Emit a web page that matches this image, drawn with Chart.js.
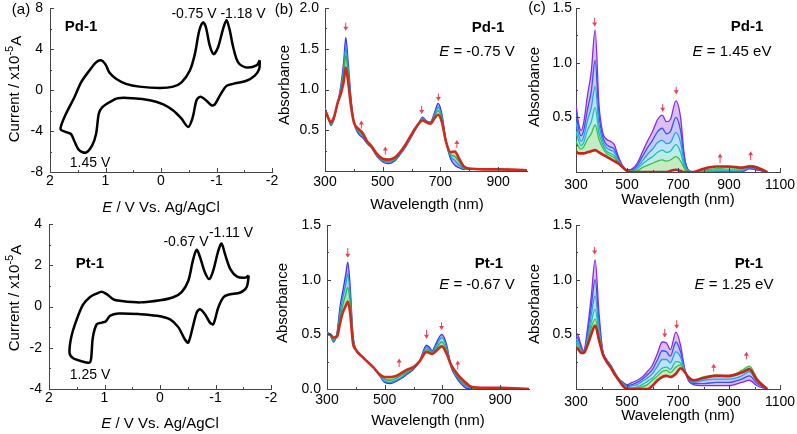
<!DOCTYPE html>
<html>
<head>
<meta charset="utf-8">
<script src="https://cdn.jsdelivr.net/npm/chart.js@4.4.0/dist/chart.umd.min.js"></script>
<style>
  html, body { margin: 0; padding: 0; background: #fff; }
  #wrap { position: relative; width: 797px; height: 434px; overflow: hidden; }
  canvas { position: absolute; }
</style>
</head>
<body>
<div id="wrap"></div>
<script>
// cyclic voltammograms (E in V, current in 1e-5 A)
const cvPdE = [-1.78,-1.72,-1.54,-1.39,-1.30,-1.24,-1.18,-1.11,-1.03,-0.95,-0.88,-0.81,-0.76,-0.69,-0.61,-0.52,-0.37,-0.22,0.02,0.39,0.63,0.81,0.93,1.00,1.08,1.17,1.29,1.44,1.56,1.71,1.81,
  1.71,1.62,1.56,1.47,1.35,1.24,1.17,1.12,1.06,0.93,0.78,0.51,0.20,-0.04,-0.22,-0.37,-0.49,-0.57,-0.64,-0.71,-0.81,-0.91,-0.97,-1.06,-1.18,-1.30,-1.54,-1.69,-1.77,-1.78];
const cvPdI = [2.9,2.4,2.2,2.7,4.2,5.8,6.8,5.8,4.2,3.5,4.3,6.1,6.6,5.8,3.5,1.9,0.75,0.33,0.2,0.33,0.6,1.1,1.7,2.5,2.9,2.7,1.9,0.75,-0.7,-2.3,-3.8,
  -4.1,-4.3,-5.0,-5.9,-6.1,-5.4,-4.3,-2.3,-1.7,-1.2,-0.8,-0.8,-1.0,-1.4,-2.0,-2.8,-3.6,-2.7,-1.0,-0.65,-1.0,-1.5,-1.4,-0.55,0.4,0.6,0.9,1.4,2.05,2.9];
const cvPtE = [-1.60,-1.54,-1.39,-1.27,-1.17,-1.11,-1.05,-0.96,-0.89,-0.81,-0.72,-0.66,-0.59,-0.51,-0.39,-0.24,0.00,0.36,0.72,0.84,0.96,1.05,1.14,1.27,1.39,1.51,1.60,1.63,
  1.57,1.42,1.27,1.24,1.21,1.14,1.05,0.98,0.90,0.75,0.36,0.06,-0.18,-0.33,-0.45,-0.51,-0.59,-0.66,-0.72,-0.81,-0.90,-0.96,-1.05,-1.14,-1.23,-1.45,-1.56,-1.60];
const cvPtI = [1.5,1.4,1.45,1.8,2.55,3.05,2.7,1.75,1.33,1.65,2.4,2.75,2.2,1.25,0.7,0.45,0.3,0.2,0.28,0.35,0.6,0.72,0.63,0.44,0.08,-0.7,-1.5,-2.25,
  -2.5,-2.65,-2.72,-2.5,-1.5,-0.86,-0.78,-0.73,-0.45,-0.34,-0.37,-0.45,-0.62,-1.0,-1.6,-1.75,-1.0,-0.3,-0.13,-0.37,-0.78,-0.86,-0.05,0.44,0.57,0.68,0.93,1.5];

// spectroelectrochemistry, reduction (b): wavelengths and spectra from start to end
const wlPdRed = [300,310,320,330,345,355,365,372,380,390,400,415,430,445,460,480,500,520,540,560,580,600,620,638,650,665,680,692,705,720,735,750,765,780,800,850,900,1000];
const pdRed = [
  [.77,.68,.56,.62,.85,1.05,1.35,1.64,1.35,.90,.60,.46,.41,.34,.29,.18,.11,.09,.12,.20,.30,.42,.55,.66,.62,.60,.72,.83,.70,.35,.15,.07,.04,.02,.02,.02,.02,.01],
  [.76,.67,.57,.63,.85,1.02,1.28,1.52,1.27,.87,.60,.48,.43,.35,.30,.19,.12,.11,.13,.21,.31,.43,.55,.65,.61,.59,.70,.78,.67,.35,.18,.13,.07,.03,.02,.02,.02,.01],
  [.75,.67,.58,.64,.85,.99,1.20,1.42,1.19,.84,.60,.50,.45,.36,.30,.20,.13,.12,.14,.22,.32,.44,.56,.64,.61,.59,.68,.74,.64,.35,.20,.18,.11,.04,.03,.02,.02,.01],
  [.74,.66,.60,.65,.85,.95,1.10,1.27,1.10,.80,.60,.52,.47,.37,.31,.21,.15,.14,.16,.23,.33,.45,.56,.62,.60,.58,.65,.69,.60,.35,.23,.24,.15,.06,.03,.02,.02,.01]
];
const wlPtRed = [300,310,323,335,345,355,365,372,380,390,400,420,440,460,480,500,520,540,560,580,600,620,645,655,665,675,698,715,730,745,760,780,800,850,900,1000];
const ptRed = [
  [.52,.50,.43,.52,.75,.90,1.05,1.16,.95,.50,.36,.30,.25,.20,.13,.06,.05,.07,.10,.14,.18,.25,.40,.38,.35,.40,.50,.40,.20,.12,.06,.01,0,0,0,0],
  [.52,.50,.44,.51,.70,.84,.96,1.05,.88,.48,.36,.30,.25,.20,.13,.07,.06,.08,.11,.15,.19,.25,.38,.36,.34,.38,.47,.38,.21,.13,.08,.03,.01,0,0,0],
  [.51,.50,.45,.50,.65,.77,.87,.93,.80,.45,.36,.30,.25,.20,.14,.09,.08,.10,.13,.16,.19,.25,.36,.35,.33,.36,.43,.35,.21,.14,.09,.04,.01,0,0,0],
  [.50,.50,.47,.48,.60,.70,.76,.80,.70,.42,.36,.30,.25,.20,.14,.11,.11,.12,.15,.18,.20,.25,.34,.33,.32,.34,.39,.32,.22,.16,.11,.06,.02,.01,.01,0]
];

// oxidation (c)
const wlOx = [300,310,320,330,345,360,375,390,405,420,435,450,465,480,500,520,540,560,580,600,620,638,655,670,692,710,725,740,760,800,850,900,950,980,1010,1050];
const pdOx = [
  [.62,.45,.38,.45,.70,.92,1.30,.62,.36,.30,.28,.25,.15,.07,.02,.03,.08,.18,.28,.37,.48,.52,.46,.48,.65,.50,.15,.02,0,0,0,0,0,.03,.02,0],
  [.55,.40,.33,.38,.57,.74,1.02,.52,.32,.25,.23,.21,.13,.06,.02,.02,.06,.14,.22,.29,.37,.40,.35,.37,.50,.38,.12,.02,0,0,0,0,.01,.03,.02,0],
  [.46,.34,.28,.32,.47,.59,.78,.44,.28,.22,.20,.18,.11,.05,.01,.01,.04,.10,.16,.21,.27,.29,.26,.27,.36,.27,.08,.01,0,0,.01,.01,.01,.04,.03,0],
  [.37,.29,.24,.27,.38,.46,.59,.36,.25,.19,.17,.15,.10,.05,.01,.01,.03,.07,.11,.14,.18,.20,.18,.19,.25,.18,.05,.01,0,.01,.02,.02,.02,.05,.04,0],
  [.28,.23,.21,.23,.30,.35,.43,.30,.22,.17,.15,.13,.09,.05,.01,0,.01,.04,.06,.08,.10,.11,.10,.11,.14,.10,.03,0,0,.02,.03,.04,.03,.06,.05,0],
  [.19,.17,.17,.17,.18,.19,.20,.18,.16,.14,.12,.10,.08,.05,.01,0,0,0,0,0,0,0,0,.01,.02,.01,0,0,0,.03,.05,.05,.04,.05,.04,0]
];
const ptOx = [
  [.52,.48,.40,.35,.55,.85,1.18,.70,.35,.27,.22,.16,.10,.07,.04,.06,.08,.11,.16,.22,.33,.43,.42,.36,.52,.40,.20,.08,.04,.03,.03,.03,.06,.08,.03,0],
  [.49,.45,.38,.34,.50,.76,1.00,.62,.34,.27,.22,.16,.10,.06,.03,.04,.06,.09,.13,.18,.27,.35,.34,.30,.43,.34,.19,.09,.05,.05,.06,.06,.09,.12,.05,0],
  [.46,.42,.36,.34,.46,.68,.85,.56,.33,.26,.21,.15,.10,.06,.02,.03,.04,.07,.10,.14,.21,.27,.27,.24,.34,.29,.18,.10,.06,.08,.09,.09,.12,.16,.07,0],
  [.43,.40,.35,.33,.44,.61,.73,.51,.33,.26,.21,.15,.09,.05,.02,.01,.02,.04,.07,.10,.15,.19,.20,.18,.25,.24,.17,.11,.07,.10,.12,.11,.15,.19,.09,0],
  [.40,.38,.34,.33,.42,.56,.64,.48,.32,.25,.20,.15,.09,.05,.01,0,.01,.02,.04,.08,.12,.16,.17,.15,.20,.22,.16,.11,.08,.11,.13,.12,.17,.21,.10,0],
  [.38,.36,.33,.33,.40,.50,.58,.45,.32,.25,.20,.14,.09,.04,0,0,0,0,0,.03,.08,.11,.12,.11,.14,.19,.16,.11,.08,.10,.12,.12,.15,.18,.08,0]
];

// red arrows: [wavelength, tail, head]
const arrPdRed = [[372,1.82,1.72],[426,0.52,0.62],[509,0.20,0.30],[635,0.80,0.70],[693,0.95,0.86],[757,0.28,0.38]];
const arrPtRed = [[372,1.29,1.20],[550,0.20,0.28],[645,0.54,0.46],[697,0.61,0.54],[753,0.18,0.26]];
const arrPdOx = [[373,1.41,1.33],[640,0.62,0.55],[693,0.78,0.71],[865,0.08,0.17],[985,0.11,0.19]];
const arrPtOx = [[373,1.30,1.23],[648,0.55,0.47],[695,0.63,0.55],[840,0.16,0.23],[968,0.27,0.34]];

// tick values
const ticksE = [2, 1, 0, -1, -2];
const ticksIPd = [-8, -4, 0, 4, 8];
const ticksIPt = [-4, -2, 0, 2, 4];
const ticksWlRed = [300, 500, 700, 900];
const ticksWlOx = [300, 500, 700, 900, 1100];
const ticksAbsPdRed = [0.5, 1.0, 1.5, 2.0];
const ticksAbsPtRed = [0.0, 0.5, 1.0, 1.5];
const ticksAbsOx = [0.5, 1.0, 1.5];

const FF = '"Liberation Sans", Arial, Helvetica, sans-serif';
const AX = '#444';
const colRed = ['#3b35f0', '#1f9ad6', '#2eb34a', '#cf2a1c'];
const colOx = ['#8a2be2', '#3f4ff0', '#2a9df0', '#1fbfb0', '#3cbf3c', '#c8241a'];

function rgba(hex, a) {
  const n = parseInt(hex.slice(1), 16);
  return 'rgba(' + (n >> 16) + ',' + ((n >> 8) & 255) + ',' + (n & 255) + ',' + a + ')';
}

function specSets(wl, series, cols, alpha) {
  const last = series.length - 1;
  return series.map((s, i) => ({
    data: wl.map((x, k) => ({x: x, y: s[k]})),
    borderColor: cols[i],
    borderWidth: i === last ? 2.6 : 1.3,
    backgroundColor: rgba(cols[i], alpha),
    fill: i < last ? '+1' : false,
    cubicInterpolationMode: 'monotone',
    order: series.length - i
  }));
}

function cvSet(E, I) {
  return [{
    data: E.map((x, k) => ({x: x, y: I[k]})),
    borderColor: '#000', borderWidth: 2.5, tension: 0.3, fill: false
  }];
}

function axis(s, size, horiz) {
  return {
    type: 'linear', min: s.min, max: s.max, reverse: !!s.reverse,
    border: {color: AX, width: 1},
    grid: {drawOnChartArea: false, drawTicks: false},
    ticks: {
      color: '#000', font: {family: FF, size: 14}, padding: s.pad,
      autoSkip: false, maxRotation: 0,
      callback: v => s.dec ? v.toFixed(s.dec) : String(v)
    },
    afterBuildTicks: sc => { sc.ticks = s.ticks.map(v => ({value: v})); },
    afterFit: sc => {
      if (horiz) { sc.height = size; sc.paddingLeft = 0; sc.paddingRight = 0; }
      else { sc.width = size; sc.paddingTop = 0; sc.paddingBottom = 0; }
    }
  };
}

function drawParts(ctx, x, y, parts, align) {
  let w = 0;
  parts.forEach(p => { ctx.font = p[1]; w += ctx.measureText(p[0]).width; });
  let cx = align === 'left' ? x : x - w / 2;
  parts.forEach(p => {
    ctx.font = p[1];
    ctx.fillText(p[0], cx, y + (p[2] || 0));
    cx += ctx.measureText(p[0]).width;
  });
}

function decoPlugin(o) {
  return {
    id: 'deco',
    afterDraw(chart) {
      const ctx = chart.ctx, ca = chart.chartArea;
      ctx.save();
      // inward major and minor ticks
      ctx.strokeStyle = AX; ctx.lineWidth = 1;
      [['x', chart.scales.x], ['y', chart.scales.y]].forEach(([k, sc]) => {
        const maj = sc.ticks.map(t => t.value);
        const step = Math.abs(maj[1] - maj[0]);
        const lo = Math.min(sc.min, sc.max), hi = Math.max(sc.min, sc.max);
        const minor = [];
        maj.forEach(v => [v - step / 2, v + step / 2].forEach(m => {
          if (m > lo && m < hi && !minor.some(q => Math.abs(q - m) < 1e-9)) minor.push(m);
        }));
        const mark = (v, len) => {
          const p = Math.round(sc.getPixelForValue(v)) + 0.5;
          ctx.beginPath();
          if (k === 'x') { ctx.moveTo(p, ca.bottom); ctx.lineTo(p, ca.bottom - len); }
          else { ctx.moveTo(ca.left, p); ctx.lineTo(ca.left + len, p); }
          ctx.stroke();
        };
        maj.forEach(v => mark(v, 4));
        minor.forEach(v => mark(v, 2));
      });
      // red arrows
      ctx.strokeStyle = '#e8425a'; ctx.fillStyle = '#e8425a'; ctx.lineWidth = 1;
      (o.arrows || []).forEach(a => {
        const x = chart.scales.x.getPixelForValue(a[0]);
        const y1 = chart.scales.y.getPixelForValue(a[1]);
        const y2 = chart.scales.y.getPixelForValue(a[2]);
        const d = y2 > y1 ? 1 : -1;
        ctx.beginPath(); ctx.moveTo(x, y1); ctx.lineTo(x, y2 - d * 3); ctx.stroke();
        ctx.beginPath(); ctx.moveTo(x, y2); ctx.lineTo(x - 2.5, y2 - d * 4); ctx.lineTo(x + 2.5, y2 - d * 4); ctx.closePath(); ctx.fill();
      });
      // text labels
      ctx.fillStyle = '#000'; ctx.textBaseline = 'middle';
      (o.texts || []).forEach(t => {
        const x = t.x - o.x0, y = t.y - o.y0;
        if (t.rot) {
          ctx.save(); ctx.translate(x, y); ctx.rotate(-Math.PI / 2);
          drawParts(ctx, 0, 0, t.parts, 'center');
          ctx.restore();
        } else {
          drawParts(ctx, x, y, t.parts, t.align);
        }
      });
      ctx.restore();
    }
  };
}

const wrap = document.getElementById('wrap');
function panel(o) {
  const cv = document.createElement('canvas');
  cv.width = o.w; cv.height = o.h;
  cv.style.left = o.x0 + 'px'; cv.style.top = o.y0 + 'px';
  wrap.appendChild(cv);
  const a = o.area;
  return new Chart(cv, {
    type: 'line',
    data: {datasets: o.datasets},
    options: {
      responsive: false, animation: false, devicePixelRatio: 1,
      layout: {padding: {left: 0, top: a.t - o.y0, right: o.x0 + o.w - a.r, bottom: 0}},
      plugins: {legend: {display: false}, tooltip: {enabled: false}},
      elements: {point: {radius: 0}},
      scales: {
        x: axis(o.x, o.y0 + o.h - a.b, true),
        y: axis(o.y, a.l - o.x0, false)
      }
    },
    plugins: [decoPlugin(o)]
  });
}

const f14 = '14px ' + FF, f15 = '15px ' + FF, b15 = 'bold 15px ' + FF, i15 = 'italic 15px ' + FF;
const eTitle = [['E', i15], [' / V Vs. Ag/AgCl', f15]];
const iTitle = [['Current / x10', f15], ['-5', '11px ' + FF, -5], ['A', f15, 2]];

// (a) CV Pd-1
panel({
  x0: 0, y0: 0, w: 285, h: 217, area: {l: 50, t: 8, r: 272, b: 172},
  datasets: cvSet(cvPdE, cvPdI),
  x: {min: -2, max: 2, reverse: true, ticks: ticksE, pad: 1},
  y: {min: -8, max: 8, ticks: ticksIPd, pad: 7},
  texts: [
    {x: 21, y: 10, parts: [['(a)', f15]]},
    {x: 81, y: 27, parts: [['Pd-1', b15]]},
    {x: 194, y: 14, parts: [['-0.75 V', f14]]},
    {x: 243, y: 14, parts: [['-1.18 V', f14]]},
    {x: 90, y: 163, parts: [['1.45 V', f14]]},
    {x: 161, y: 208, parts: eTitle},
    {x: 15, y: 89, parts: iTitle, rot: true}
  ]
});
// (a) CV Pt-1
panel({
  x0: 0, y0: 217, w: 285, h: 217, area: {l: 49, t: 224, r: 271, b: 389},
  datasets: cvSet(cvPtE, cvPtI),
  x: {min: -2, max: 2, reverse: true, ticks: ticksE, pad: 1},
  y: {min: -4, max: 4, ticks: ticksIPt, pad: 7},
  texts: [
    {x: 90, y: 264, parts: [['Pt-1', b15]]},
    {x: 186, y: 242, parts: [['-0.67 V', f14]]},
    {x: 231, y: 233, parts: [['-1.11 V', f14]]},
    {x: 90, y: 375, parts: [['1.25 V', f14]]},
    {x: 160, y: 424, parts: eTitle},
    {x: 15, y: 298, parts: iTitle, rot: true}
  ]
});
// (b) reduction Pd-1
panel({
  x0: 255, y0: 0, w: 285, h: 217, area: {l: 325, t: 8, r: 527, b: 171},
  datasets: specSets(wlPdRed, pdRed, colRed, 0.4),
  arrows: arrPdRed,
  x: {min: 300, max: 1000, ticks: ticksWlRed, pad: 3},
  y: {min: 0, max: 2, ticks: ticksAbsPdRed, dec: 1, pad: 6},
  texts: [
    {x: 284, y: 10, parts: [['(b)', f15]]},
    {x: 488, y: 28, parts: [['Pd-1', b15]]},
    {x: 477, y: 52, parts: [['E', i15], [' = -0.75 V', f15]]},
    {x: 427, y: 205, parts: [['Wavelength (nm)', f15]]},
    {x: 285, y: 85, parts: [['Absorbance', f15]], rot: true}
  ]
});
// (b) reduction Pt-1
panel({
  x0: 255, y0: 217, w: 285, h: 217, area: {l: 327, t: 225, r: 529, b: 389},
  datasets: specSets(wlPtRed, ptRed, colRed, 0.4),
  arrows: arrPtRed,
  x: {min: 300, max: 1000, ticks: ticksWlRed, pad: 3},
  y: {min: 0, max: 1.5, ticks: ticksAbsPtRed, dec: 1, pad: 6},
  texts: [
    {x: 489, y: 264, parts: [['Pt-1', b15]]},
    {x: 477, y: 285, parts: [['E', i15], [' = -0.67 V', f15]]},
    {x: 428, y: 421, parts: [['Wavelength (nm)', f15]]},
    {x: 283, y: 303, parts: [['Absorbance', f15]], rot: true}
  ]
});
// (c) oxidation Pd-1
panel({
  x0: 525, y0: 0, w: 272, h: 217, area: {l: 576, t: 8, r: 780, b: 172},
  datasets: specSets(wlOx, pdOx, colOx, 0.3),
  arrows: arrPdOx,
  x: {min: 300, max: 1100, ticks: ticksWlOx, pad: 5},
  y: {min: 0, max: 1.5, ticks: ticksAbsOx, dec: 1, pad: 4},
  texts: [
    {x: 537, y: 8, parts: [['(c)', f15]]},
    {x: 747, y: 27, parts: [['Pd-1', b15]]},
    {x: 732, y: 52, parts: [['E', i15], [' = 1.45 eV', f15]]},
    {x: 678, y: 200, parts: [['Wavelength (nm)', f15]]},
    {x: 535, y: 87, parts: [['Absorbance', f15]], rot: true}
  ]
});
// (c) oxidation Pt-1
panel({
  x0: 525, y0: 217, w: 272, h: 217, area: {l: 576, t: 225, r: 780, b: 389},
  datasets: specSets(wlOx, ptOx, colOx, 0.3),
  arrows: arrPtOx,
  x: {min: 300, max: 1100, ticks: ticksWlOx, pad: 5},
  y: {min: 0, max: 1.5, ticks: ticksAbsOx, dec: 1, pad: 4},
  texts: [
    {x: 749, y: 264, parts: [['Pt-1', b15]]},
    {x: 734, y: 285, parts: [['E', i15], [' = 1.25 eV', f15]]},
    {x: 678, y: 416, parts: [['Wavelength (nm)', f15]]},
    {x: 535, y: 304, parts: [['Absorbance', f15]], rot: true}
  ]
});
</script>
</body>
</html>
